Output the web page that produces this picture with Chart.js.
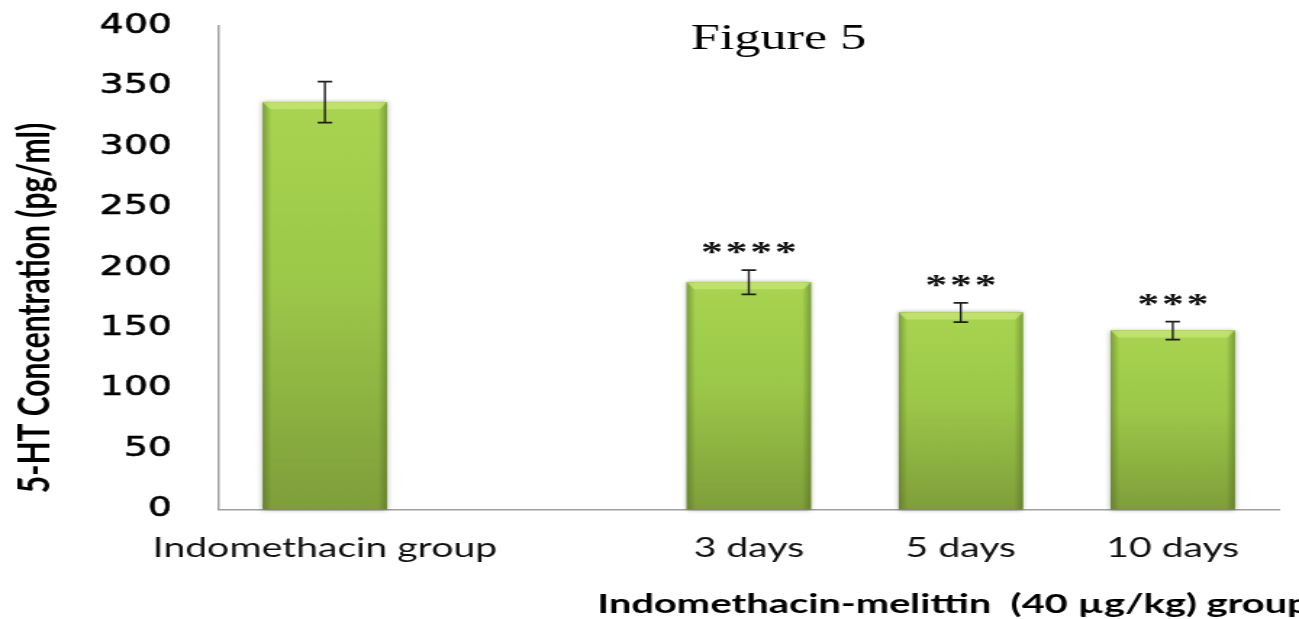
<!DOCTYPE html>
<html>
<head>
<meta charset="utf-8">
<script src="https://cdn.jsdelivr.net/npm/chart.js@4/dist/chart.umd.min.js"></script>
<style>
  html, body { margin: 0; padding: 0; background: #fff; overflow: hidden; }
  /* the chart is laid out on a narrower canvas and widened to the page */
  #stage { width: 896px; height: 619px; transform: scaleX(1.44978); transform-origin: 0 0; }
</style>
</head>
<body>
<div id="stage"><canvas id="c" width="896" height="619"></canvas></div>
<script>
// 5-HT concentration (pg/ml), mean and error per group
const categories = ['Indomethacin group', '', '3 days', '5 days', '10 days'];
const concentration = [337, null, 188, 163, 148];
const errors = [17, null, 10, 8, 7.5];
const significance = ['', '', '****', '***', '***'];

const yMin = 0;
const yMax = 400;
const yStep = 50;

const chartTitle = 'Figure 5';
const yTitle = '5-HT Concentration (pg/ml)';
const xTitle = 'Indomethacin-melittin  (40 \u00b5g/kg) group';

const annotate = {
  id: 'annotate',
  afterDatasetsDraw(chart) {
    const ctx = chart.ctx;
    const y = chart.scales.y;
    const meta = chart.getDatasetMeta(0);

    meta.data.forEach((bar, i) => {
      if (concentration[i] == null) return;
      const p = bar.getProps(['x', 'y', 'base', 'width'], true);
      const left = p.x - p.width / 2, right = p.x + p.width / 2;
      const top = p.y, bottom = p.base;

      // bar body with soft shadow
      ctx.save();
      ctx.shadowColor = 'rgba(0,0,0,0.35)';
      ctx.shadowBlur = 4;
      const body = ctx.createLinearGradient(0, top, 0, bottom);
      body.addColorStop(0, '#a8d451');
      body.addColorStop(0.45, '#9cc849');
      body.addColorStop(1, '#7f9e3a');
      ctx.fillStyle = body;
      ctx.fillRect(left, top, right - left, bottom - top);
      ctx.restore();

      // darker edges
      ctx.save();
      const side = ctx.createLinearGradient(left, 0, right, 0);
      side.addColorStop(0, 'rgba(70,95,25,0.45)');
      side.addColorStop(0.07, 'rgba(70,95,25,0)');
      side.addColorStop(0.93, 'rgba(70,95,25,0)');
      side.addColorStop(1, 'rgba(70,95,25,0.45)');
      ctx.fillStyle = side;
      ctx.fillRect(left, top, right - left, bottom - top);

      // top bevel
      ctx.beginPath();
      ctx.moveTo(left, top);
      ctx.lineTo(right, top);
      ctx.lineTo(right - 5, top + 7);
      ctx.lineTo(left + 5, top + 7);
      ctx.closePath();
      ctx.fillStyle = 'rgba(200,230,120,0.75)';
      ctx.fill();
      ctx.restore();
    });

    // error bars
    ctx.save();
    ctx.strokeStyle = '#1e1e1e';
    meta.data.forEach((bar, i) => {
      if (concentration[i] == null) return;
      const x = bar.x;
      const hi = y.getPixelForValue(concentration[i] + errors[i]);
      const lo = y.getPixelForValue(concentration[i] - errors[i]);
      ctx.lineWidth = 1.4;
      ctx.beginPath();
      ctx.moveTo(x, hi);
      ctx.lineTo(x, lo);
      ctx.stroke();
      ctx.lineWidth = 1.8;
      ctx.beginPath();
      ctx.moveTo(x - 5, hi);
      ctx.lineTo(x + 5, hi);
      ctx.moveTo(x - 5, lo);
      ctx.lineTo(x + 5, lo);
      ctx.stroke();
    });
    ctx.restore();

    // significance marks
    ctx.save();
    ctx.fillStyle = '#111';
    ctx.font = 'bold 30px "Liberation Serif"';
    ctx.letterSpacing = '2px';
    ctx.textAlign = 'center';
    ctx.textBaseline = 'alphabetic';
    meta.data.forEach((bar, i) => {
      if (!significance[i]) return;
      const hi = y.getPixelForValue(concentration[i] + errors[i]);
      ctx.fillText(significance[i], bar.x + 1, hi - 9);
    });
    ctx.restore();

    // titles
    ctx.save();
    ctx.fillStyle = '#000';
    ctx.font = '36px "Liberation Serif"';
    ctx.textAlign = 'center';
    ctx.textBaseline = 'alphabetic';
    ctx.fillText(chartTitle, 537, 49);

    ctx.font = 'bold 30px Lato';
    ctx.translate(34, 308);
    ctx.rotate(-Math.PI / 2);
    ctx.fillText(yTitle, 0, 0);
    ctx.restore();

    ctx.save();
    ctx.fillStyle = '#000';
    ctx.font = 'bold 27.5px Lato';
    ctx.textAlign = 'left';
    ctx.textBaseline = 'alphabetic';
    ctx.fillText(xTitle, 412, 613);
    ctx.restore();
  }
};

new Chart(document.getElementById('c'), {
  type: 'bar',
  data: {
    labels: categories,
    datasets: [{
      data: concentration,
      backgroundColor: '#96bd47',
      borderWidth: 0,
      barPercentage: 0.585,
      categoryPercentage: 1.0
    }]
  },
  options: {
    responsive: false,
    animation: false,
    events: [],
    layout: { padding: { left: 0, right: 14, top: 26, bottom: 0 } },
    plugins: {
      legend: { display: false },
      tooltip: { enabled: false },
      title: { display: false }
    },
    scales: {
      x: {
        grid: { display: false, drawTicks: false },
        border: { display: true, color: '#a0a0a0', width: 1.6 },
        ticks: {
          color: '#111',
          font: { family: 'Lato', size: 27 },
          padding: 23,
          maxRotation: 0,
          autoSkip: false
        },
        afterFit(scale) {
          scale.height = 109.5;
          scale.paddingLeft = 0;
          scale.paddingRight = 0;
        }
      },
      y: {
        min: yMin,
        max: yMax,
        grid: { display: false, drawTicks: false },
        border: { display: true, color: '#a0a0a0', width: 1.5 },
        ticks: {
          stepSize: yStep,
          color: '#000',
          textStrokeColor: '#000',
          textStrokeWidth: 0.6,
          font: { family: 'DejaVu Sans', size: 26 },
          padding: 32.5
        },
        afterFit(scale) {
          scale.width = 151;
          scale.paddingTop = 0;
          scale.paddingBottom = 0;
        }
      }
    }
  },
  plugins: [annotate]
});
</script>
</body>
</html>
